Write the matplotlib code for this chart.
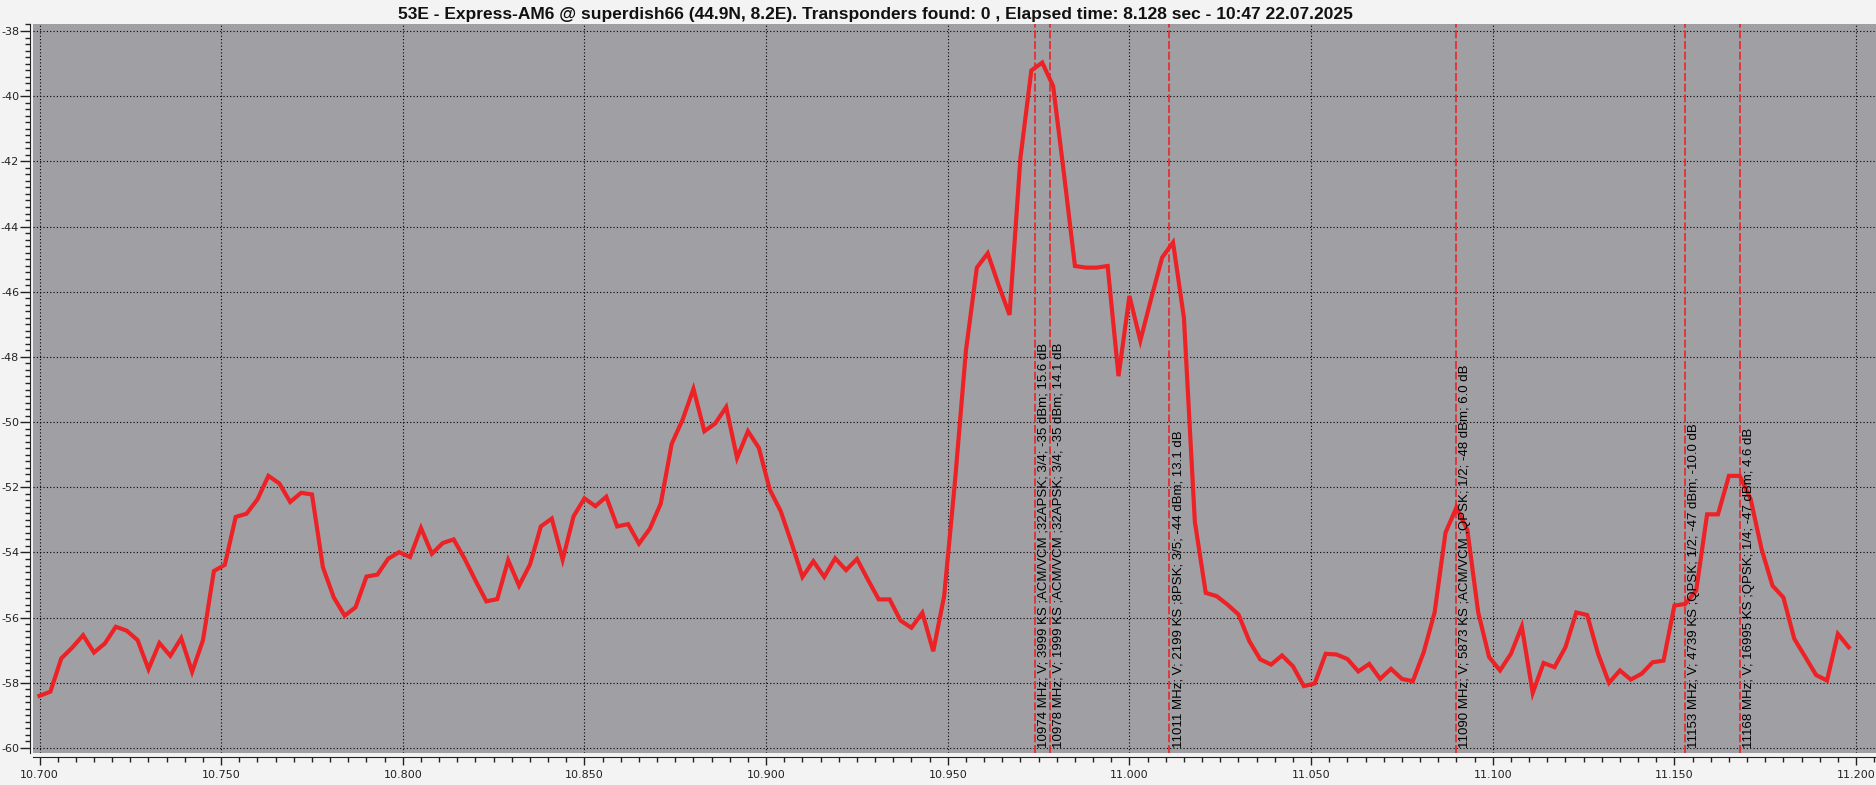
import numpy as np
import matplotlib
matplotlib.use("Agg")
import matplotlib.pyplot as plt
from matplotlib.ticker import MultipleLocator, StrMethodFormatter

plt.rcParams['axes.unicode_minus'] = False
plt.rcParams['font.family'] = ['DejaVu Sans']

# sweep: 10.700 GHz, step 3 MHz
f_start = 10.700
f_step = 0.003

# level, dBm
level = [
    -58.40, -58.27, -57.25, -56.92, -56.54, -57.07, -56.79, -56.28, -56.40, -56.69,
    -57.58, -56.78, -57.17, -56.63, -57.66, -56.69, -54.57, -54.38, -52.91, -52.81,
    -52.37, -51.65, -51.88, -52.45, -52.17, -52.22, -54.45, -55.38, -55.94, -55.68,
    -54.74, -54.68, -54.19, -53.99, -54.14, -53.25, -54.04, -53.71, -53.60, -54.19,
    -54.86, -55.50, -55.43, -54.24, -55.02, -54.37, -53.20, -52.96, -54.22, -52.89,
    -52.34, -52.58, -52.29, -53.20, -53.13, -53.73, -53.27, -52.50, -50.67, -49.93,
    -48.98, -50.28, -50.04, -49.54, -51.10, -50.28, -50.79, -52.07, -52.73, -53.71,
    -54.75, -54.27, -54.75, -54.18, -54.54, -54.20, -54.83, -55.44, -55.44, -56.09,
    -56.31, -55.85, -57.03, -55.34, -51.80, -47.80, -45.26, -44.82, -45.80, -46.71,
    -41.89, -39.21, -38.97, -39.69, -42.40, -45.21, -45.26, -45.26, -45.21, -48.59,
    -46.13, -47.50, -46.20, -44.95, -44.49, -46.80, -53.05, -55.24, -55.34, -55.60,
    -55.90, -56.72, -57.28, -57.44, -57.16, -57.49, -58.10, -58.02, -57.11, -57.13,
    -57.27, -57.65, -57.42, -57.88, -57.57, -57.88, -57.95, -57.06, -55.84, -53.39,
    -52.62, -53.30, -55.84, -57.21, -57.62, -57.11, -56.27, -58.31, -57.39, -57.52,
    -56.91, -55.84, -55.92, -57.11, -58.00, -57.62, -57.90, -57.72, -57.37, -57.32,
    -55.63, -55.58, -55.17, -52.83, -52.83, -51.65, -51.65, -52.37, -53.90, -55.02,
    -55.38, -56.65, -57.20, -57.76, -57.93, -56.50, -56.91,
]

# found transponders
tp_freq = [10.974, 10.978, 11.011, 11.090, 11.153, 11.168]
tp_label = [
    "10974 MHz; V; 3999 KS ;ACM/VCM ;32APSK; 3/4; -35 dBm; 15.6 dB",
    "10978 MHz; V; 1999 KS ;ACM/VCM ;32APSK; 3/4; -35 dBm; 14.1 dB",
    "11011 MHz; V; 2199 KS ;8PSK; 3/5; -44 dBm; 13.1 dB",
    "11090 MHz; V; 5873 KS ;ACM/VCM ;QPSK; 1/2; -48 dBm; 6.0 dB",
    "11153 MHz; V; 4739 KS ;QPSK; 1/2; -47 dBm; -10.0 dB",
    "11168 MHz; V; 16995 KS ;QPSK; 1/4; -47 dBm; 4.6 dB",
]

title = ("53E - Express-AM6 @ superdish66 (44.9N, 8.2E). Transponders found: 0 , "
         "Elapsed time: 8.128 sec - 10:47 22.07.2025")

freq = f_start + f_step * np.arange(len(level))

W, H = 1876, 785
fig = plt.figure(figsize=(W / 100, H / 100), dpi=100, facecolor='#f3f3f3')
ax = fig.add_axes([33 / W, 32 / H, (W - 33) / W, 729 / H])
ax.set_facecolor('#a0a0a4')

ax.plot(freq, level, color='#ec2226', lw=3.0, solid_joinstyle='miter', zorder=3)

for f, txt in zip(tp_freq, tp_label):
    ax.axvline(f, color='#e8262a', lw=1.2, dashes=(4.8, 1.6), zorder=2)
    ax.annotate(txt, xy=(f, -60.0), xytext=(2, 0), textcoords='offset points',
                rotation=90, ha='left', va='bottom', fontsize=9.5,
                family=['Liberation Sans', 'DejaVu Sans'], color='black', zorder=4)

ax.set_xlim(10.69821, 11.20549)
ax.set_ylim(-60.153, -37.785)

ax.xaxis.set_major_locator(MultipleLocator(0.05))
ax.xaxis.set_minor_locator(MultipleLocator(0.005))
ax.yaxis.set_major_locator(MultipleLocator(2))
ax.yaxis.set_minor_locator(MultipleLocator(0.2))
ax.xaxis.set_major_formatter(StrMethodFormatter('{x:.3f}'))
ax.yaxis.set_major_formatter(StrMethodFormatter('{x:.0f}'))

ax.grid(True, which='major', color='black', lw=0.8, ls=(0, (1, 2)))
ax.set_axisbelow(True)

for s in ['top', 'right']:
    ax.spines[s].set_visible(False)
ax.spines['left'].set_position(('outward', 2))
ax.spines['bottom'].set_position(('outward', 3))
ax.spines['left'].set_color('#222222')
ax.spines['bottom'].set_color('#222222')

ax.tick_params(axis='x', which='major', length=6, width=1, pad=3, labelsize=8, colors='#222222')
ax.tick_params(axis='x', which='minor', length=3.5, width=1, colors='#222222')
ax.tick_params(axis='y', which='major', length=7, width=1, pad=1, labelsize=8, colors='#222222')
ax.tick_params(axis='y', which='minor', length=3.5, width=1, colors='#222222')

fig.text(875 / W, 1 - 19.5 / H, title, ha='center', va='baseline', fontsize=12.5,
         fontweight='bold', family=['Liberation Sans', 'DejaVu Sans'], color='#111111')

fig.savefig('out.png', dpi=100, facecolor=fig.get_facecolor())
